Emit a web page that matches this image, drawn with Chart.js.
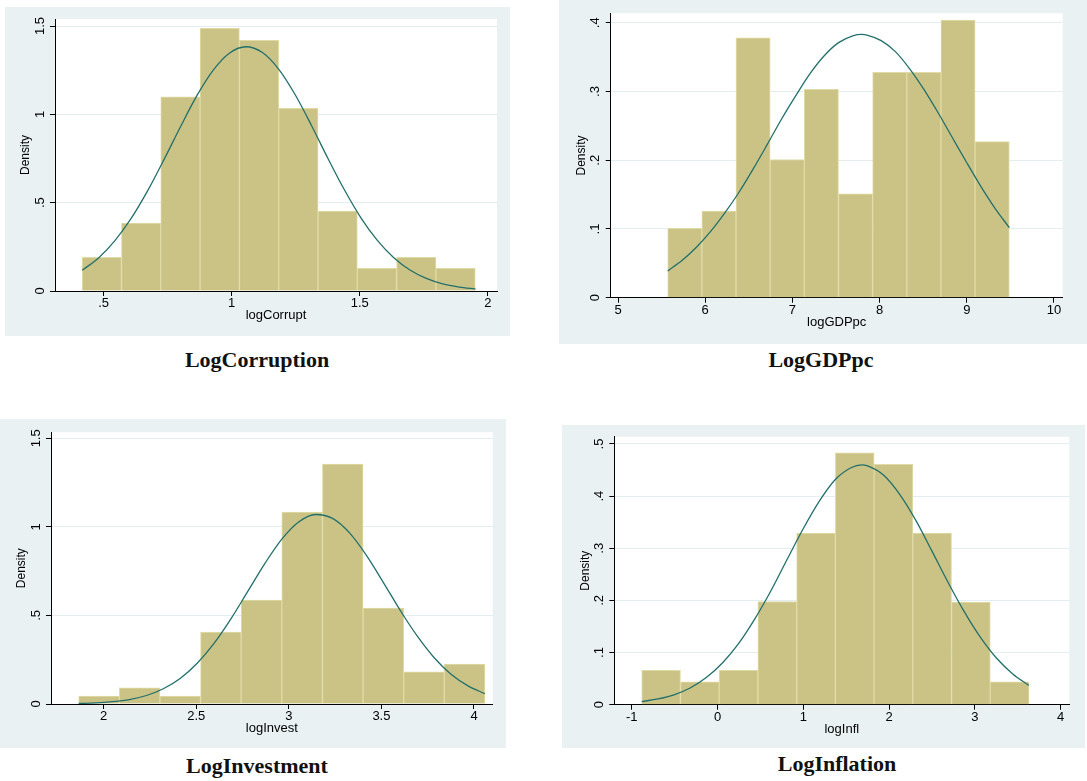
<!DOCTYPE html>
<html>
<head>
<meta charset="utf-8">
<script src="https://cdn.jsdelivr.net/npm/chart.js@4.4.0/dist/chart.umd.min.js"></script>
<style>
  body { margin: 0; background: #fff; width: 1087px; height: 781px; position: relative; overflow: hidden; }
  .panel { position: absolute; background: #e9f1f3; }
  .cap { position: absolute; width: 300px; text-align: center; font-family: "Liberation Serif", serif;
         font-weight: bold; font-size: 22px; line-height: 22px; color: #111; }
</style>
</head>
<body>
<div class="panel" style="left:5px;top:7px;width:505px;height:329px"><canvas id="c1"></canvas></div>
<div class="panel" style="left:559px;top:0px;width:528px;height:344px"><canvas id="c2"></canvas></div>
<div class="panel" style="left:0px;top:419px;width:506px;height:329px"><canvas id="c3"></canvas></div>
<div class="panel" style="left:562px;top:425px;width:523px;height:323px"><canvas id="c4"></canvas></div>

<div class="cap" style="left:107px;top:349px">LogCorruption</div>
<div class="cap" style="left:671px;top:349px">LogGDPpc</div>
<div class="cap" style="left:107px;top:755px">LogInvestment</div>
<div class="cap" style="left:687px;top:753px">LogInflation</div>

<script>
// logCorrupt
const corruptStart = 0.416;
const corruptWidth = 0.1535;
const corruptDensity = [0.191, 0.385, 1.099, 1.487, 1.419, 1.034, 0.453, 0.128, 0.191, 0.128];
const corruptCurveX = [0.416, 0.480, 0.544, 0.608, 0.672, 0.736, 0.800, 0.864, 0.928, 0.992, 1.056, 1.120, 1.184,
                       1.248, 1.312, 1.376, 1.440, 1.504, 1.568, 1.632, 1.696, 1.760, 1.824, 1.888, 1.952];
const corruptCurveY = [0.117, 0.187, 0.285, 0.412, 0.568, 0.745, 0.930, 1.106, 1.251, 1.348, 1.383, 1.350, 1.255,
                       1.111, 0.936, 0.750, 0.573, 0.416, 0.288, 0.190, 0.119, 0.071, 0.040, 0.022, 0.011];
const corruptXTicks = [0.5, 1, 1.5, 2];
const corruptYTicks = [0, 0.5, 1, 1.5];

// logGDPpc
const gdpStart = 5.570;
const gdpWidth = 0.3917;
const gdpDensity = [0.101, 0.126, 0.378, 0.201, 0.303, 0.151, 0.328, 0.328, 0.404, 0.227];
const gdpCurveX = [5.570, 5.733, 5.896, 6.060, 6.223, 6.386, 6.549, 6.712, 6.876, 7.039, 7.202, 7.365, 7.529,
                   7.692, 7.795, 7.855, 8.018, 8.181, 8.345, 8.508, 8.671, 8.834, 8.997, 9.161, 9.324, 9.487];
const gdpCurveY = [0.039, 0.054, 0.073, 0.096, 0.123, 0.153, 0.187, 0.223, 0.260, 0.294, 0.326, 0.352, 0.371,
                   0.381, 0.383, 0.382, 0.374, 0.358, 0.333, 0.303, 0.269, 0.233, 0.197, 0.162, 0.130, 0.102];
const gdpXTicks = [5, 6, 7, 8, 9, 10];
const gdpYTicks = [0, 0.1, 0.2, 0.3, 0.4];

// logInvest
const investStart = 1.865;
const investWidth = 0.2194;
const investDensity = [0.045, 0.091, 0.045, 0.406, 0.587, 1.083, 1.354, 0.542, 0.181, 0.226];
const investCurveX = [1.865, 1.956, 2.048, 2.139, 2.231, 2.322, 2.413, 2.505, 2.596, 2.688, 2.779, 2.871, 2.962,
                      3.053, 3.145, 3.236, 3.328, 3.419, 3.510, 3.602, 3.693, 3.785, 3.876, 3.968, 4.059];
const investCurveY = [0.003, 0.006, 0.013, 0.025, 0.048, 0.086, 0.144, 0.230, 0.342, 0.482, 0.637, 0.794, 0.931,
                      1.028, 1.070, 1.048, 0.966, 0.839, 0.687, 0.528, 0.384, 0.261, 0.168, 0.102, 0.058];
const investXTicks = [2, 2.5, 3, 3.5, 4];
const investYTicks = [0, 0.5, 1, 1.5];

// logInfl
const inflStart = -0.883;
const inflWidth = 0.4513;
const inflDensity = [0.066, 0.044, 0.066, 0.198, 0.329, 0.483, 0.461, 0.329, 0.197, 0.044];
const inflCurveX = [-0.883, -0.695, -0.507, -0.319, -0.131, 0.057, 0.245, 0.433, 0.621, 0.809, 0.997, 1.185, 1.373,
                    1.561, 1.681, 1.749, 1.937, 2.125, 2.313, 2.501, 2.689, 2.877, 3.065, 3.253, 3.441, 3.629];
const inflCurveY = [0.006, 0.011, 0.019, 0.032, 0.052, 0.080, 0.117, 0.164, 0.218, 0.278, 0.337, 0.390, 0.432,
                    0.455, 0.460, 0.458, 0.440, 0.403, 0.353, 0.294, 0.234, 0.178, 0.129, 0.089, 0.059, 0.037];
const inflXTicks = [-1, 0, 1, 2, 3, 4];
const inflYTicks = [0, 0.1, 0.2, 0.3, 0.4, 0.5];

const axisFont = { family: 'Liberation Sans', size: 13 };

// Stata style numbers: .5 instead of 0.5
function fmt(v) {
  return String(v).replace(/^(-?)0\./, '$1.');
}

// white plot region on the grey graph region
const plotBg = {
  id: 'plotBg',
  beforeDraw(chart) {
    const a = chart.chartArea, c = chart.ctx;
    c.save();
    c.fillStyle = '#fff';
    c.fillRect(a.left, a.top, a.right - a.left, a.bottom - a.top);
    c.restore();
  }
};

// y tick labels are rotated like in Stata
const yLabels = {
  id: 'yLabels',
  afterDraw(chart) {
    const s = chart.scales.y, c = chart.ctx;
    c.save();
    c.fillStyle = '#000';
    c.font = '13px "Liberation Sans"';
    c.textAlign = 'center';
    c.textBaseline = 'middle';
    s.ticks.forEach(t => {
      c.save();
      c.translate(chart.chartArea.left - 15, s.getPixelForValue(t.value));
      c.rotate(-Math.PI / 2);
      c.fillText(fmt(t.value), 0, 0);
      c.restore();
    });
    c.restore();
  }
};

function makeHist(canvasId, o) {
  const bars = o.density.map((d, i) => ({ x: o.start + o.width * (i + 0.5), y: d }));
  const curve = o.curveX.map((x, i) => ({ x: x, y: o.curveY[i] }));

  new Chart(document.getElementById(canvasId), {
    type: 'bar',
    data: {
      datasets: [
        { type: 'line', data: curve, borderColor: '#22706b', borderWidth: 1.3, pointRadius: 0,
          cubicInterpolationMode: 'monotone', fill: false, order: 0 },
        { type: 'bar', data: bars, backgroundColor: '#cbc386', borderColor: '#e0dba6', borderWidth: 1,
          barPercentage: 1, categoryPercentage: 1, order: 1 }
      ]
    },
    options: {
      responsive: true,
      maintainAspectRatio: false,
      animation: false,
      layout: { padding: { left: 0, top: o.inset.t, right: o.inset.r, bottom: 0 } },
      plugins: { legend: { display: false }, tooltip: { enabled: false } },
      scales: {
        x: {
          type: 'linear', min: o.xMin, max: o.xMax, offset: false,
          afterBuildTicks: s => { s.ticks = o.xTicks.map(v => ({ value: v })); },
          afterFit: s => { s.height = o.inset.b; },
          grid: { offset: false, drawOnChartArea: false, drawTicks: true, tickLength: 5, tickColor: '#000' },
          border: { color: '#000', width: 1 },
          ticks: { padding: 0, color: '#000', font: axisFont, maxRotation: 0, autoSkip: false,
                   callback: v => fmt(v) },
          title: { display: true, text: o.xTitle, color: '#000', font: axisFont,
                   padding: { top: 0, bottom: o.inset.b - 32.3 } }
        },
        y: {
          min: 0, max: o.yMax,
          afterBuildTicks: s => { s.ticks = o.yTicks.map(v => ({ value: v })); },
          afterFit: s => { s.width = o.inset.l; },
          grid: { color: ctx => (ctx.tick && ctx.tick.value === 0 ? 'rgba(0,0,0,0)' : '#e4edf0'),
                  lineWidth: 1, drawTicks: true, tickLength: 5, tickColor: '#000' },
          border: { color: '#000', width: 1 },
          ticks: { display: false },
          title: { display: true, text: 'Density', color: '#000', font: { family: 'Liberation Sans', size: 12 },
                   padding: { top: o.inset.l - 36.2, bottom: 0 } }
        }
      }
    },
    plugins: [plotBg, yLabels]
  });
}

makeHist('c1', {
  start: corruptStart, width: corruptWidth, density: corruptDensity,
  curveX: corruptCurveX, curveY: corruptCurveY, xTicks: corruptXTicks, yTicks: corruptYTicks,
  xMin: 0.31, xMax: 2.036, yMax: 1.54, xTitle: 'logCorrupt',
  inset: { l: 50, t: 12, r: 13, b: 45 }
});

makeHist('c2', {
  start: gdpStart, width: gdpWidth, density: gdpDensity,
  curveX: gdpCurveX, curveY: gdpCurveY, xTicks: gdpXTicks, yTicks: gdpYTicks,
  xMin: 4.916, xMax: 10.1, yMax: 0.4137, xTitle: 'logGDPpc',
  inset: { l: 51.7, t: 13.3, r: 24.3, b: 46.3 }
});

makeHist('c3', {
  start: investStart, width: investWidth, density: investDensity,
  curveX: investCurveX, curveY: investCurveY, xTicks: investXTicks, yTicks: investYTicks,
  xMin: 1.7155, xMax: 4.101, yMax: 1.534, xTitle: 'logInvest',
  inset: { l: 51, t: 13.3, r: 13.3, b: 44 }
});

makeHist('c4', {
  start: inflStart, width: inflWidth, density: inflDensity,
  curveX: inflCurveX, curveY: inflCurveY, xTicks: inflXTicks, yTicks: inflYTicks,
  xMin: -1.203, xMax: 4.1, yMax: 0.514, xTitle: 'logInfl',
  inset: { l: 52.3, t: 11.7, r: 15.7, b: 43.3 }
});
</script>
</body>
</html>
